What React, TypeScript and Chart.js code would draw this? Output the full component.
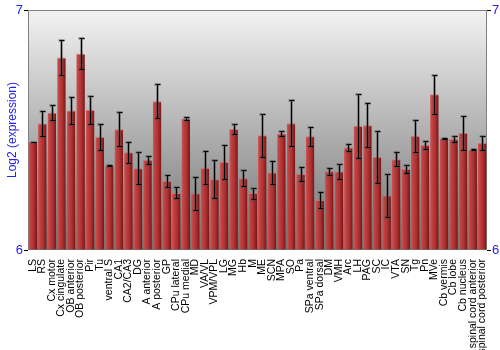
import React, { useEffect, useRef } from "react";
import { Chart, registerables } from "chart.js";

Chart.register(...registerables);

const categories: string[] = [
  "LS", "RS", "Cx motor", "Cx cingulate", "OB anterior", "OB posterior", "Pir", "Tu",
  "ventral S", "CA1", "CA2/CA3", "DG", "A anterior", "A posterior", "GP", "CPu lateral",
  "CPu medial", "MD", "VA/VL", "VPM/VPL", "LG", "MG", "Hb", "M", "ME", "SCN", "MPA", "SO",
  "Pa", "SPa ventral", "SPa dorsal", "DM", "VMH", "Arc", "LH", "PAG", "SC", "IC", "VTA",
  "SN", "Tg", "Pn", "MVe", "Cb vermis", "Cb lobe", "Cb nucleus", "spinal cord anterior",
  "spinal cord posterior",
];

const values: number[] = [
  6.450, 6.527, 6.572, 6.802, 6.581, 6.818, 6.583, 6.471,
  6.353, 6.503, 6.407, 6.341, 6.376, 6.620, 6.287, 6.238,
  6.548, 6.236, 6.342, 6.295, 6.367, 6.504, 6.299, 6.237, 6.478, 6.323, 6.485, 6.528,
  6.317, 6.474, 6.208, 6.328, 6.327, 6.427, 6.517, 6.520, 6.387, 6.227, 6.378,
  6.338, 6.475, 6.438, 6.649, 6.466, 6.462, 6.488, 6.419,
  6.446,
];

const errors: number[] = [
  0.002, 0.051, 0.032, 0.073, 0.055, 0.064, 0.059, 0.053,
  0.002, 0.070, 0.044, 0.068, 0.016, 0.072, 0.024, 0.023,
  0.008, 0.069, 0.069, 0.080, 0.070, 0.021, 0.034, 0.023, 0.090, 0.049, 0.010, 0.096,
  0.030, 0.039, 0.034, 0.015, 0.030, 0.015, 0.134, 0.092, 0.108, 0.089, 0.030,
  0.017, 0.067, 0.018, 0.081, 0.002, 0.014, 0.072, 0.002,
  0.028,
];

const yTicks: number[] = [6, 7];

const BLUE = "#2323ee";
const FONT = "'Liberation Sans', Arial, sans-serif";

const backgroundPlugin = {
  id: "bgPlugin",
  beforeDatasetsDraw(chart: any) {
    const { ctx, chartArea } = chart;
    const { left, top, right, bottom } = chartArea;
    ctx.save();
    const g = ctx.createLinearGradient(0, top, 0, bottom);
    g.addColorStop(0, "#f3f3f3");
    g.addColorStop(1, "#707070");
    ctx.fillStyle = g;
    ctx.fillRect(left, top, right - left, bottom - top);
    ctx.strokeStyle = "#808080";
    ctx.lineWidth = 1;
    ctx.beginPath();
    ctx.moveTo(left + 0.5, bottom);
    ctx.lineTo(left + 0.5, top + 0.5);
    ctx.lineTo(right - 0.5, top + 0.5);
    ctx.lineTo(right - 0.5, bottom);
    ctx.stroke();
    ctx.restore();
  },
};

const errorBarPlugin = {
  id: "errorBars",
  afterDatasetsDraw(chart: any) {
    const { ctx } = chart;
    const xs = chart.scales.x;
    const ys = chart.scales.y;
    ctx.save();
    values.forEach((v, i) => {
      const e = errors[i];
      const x = Math.round(xs.getPixelForValue(i)) + 0.5;
      const y1 = Math.round(ys.getPixelForValue(v + e)) + 0.5;
      const y2 = Math.round(ys.getPixelForValue(v - e)) + 0.5;
      ctx.strokeStyle = "rgba(70,70,70,0.45)";
      ctx.lineWidth = 3;
      ctx.beginPath();
      ctx.moveTo(x, y1);
      ctx.lineTo(x, y2);
      ctx.moveTo(x - 3, y1);
      ctx.lineTo(x + 3, y1);
      ctx.moveTo(x - 3, y2);
      ctx.lineTo(x + 3, y2);
      ctx.stroke();
      ctx.strokeStyle = "#000000";
      ctx.lineWidth = 1;
      ctx.beginPath();
      ctx.moveTo(x, y1);
      ctx.lineTo(x, y2);
      ctx.moveTo(x - 2, y1);
      ctx.lineTo(x + 3, y1);
      ctx.moveTo(x - 2, y2);
      ctx.lineTo(x + 3, y2);
      ctx.stroke();
    });
    ctx.restore();
  },
};

export default function App() {
  const ref = useRef<HTMLCanvasElement | null>(null);

  useEffect(() => {
    document.body.style.margin = "0";
    const canvas = ref.current;
    if (!canvas) return;

    const barFill = (c: any) => {
      const chart = c.chart;
      const xs = chart.scales && chart.scales.x;
      if (!xs || c.dataIndex === undefined) return "#b03434";
      const cx = xs.getPixelForValue(c.dataIndex);
      const w = (xs.right - xs.left) / categories.length * 0.9;
      if (!isFinite(cx) || !isFinite(w)) return "#b03434";
      const g = chart.ctx.createLinearGradient(cx - w / 2, 0, cx + w / 2, 0);
      g.addColorStop(0, "#cf5a5a");
      g.addColorStop(0.2, "#c04444");
      g.addColorStop(0.6, "#ae3030");
      g.addColorStop(1, "#751616");
      return g;
    };

    const chart = new Chart(canvas, {
      type: "bar",
      data: {
        labels: categories,
        datasets: [
          {
            data: values,
            backgroundColor: barFill,
            borderColor: "#d27070",
            borderWidth: { top: 1, left: 0, right: 0, bottom: 0 },
            borderSkipped: false,
            barPercentage: 0.9,
            categoryPercentage: 1,
            base: 6,
          },
        ],
      },
      options: {
        animation: false,
        responsive: false,
        maintainAspectRatio: false,
        layout: { padding: { top: 10, left: 0, right: 0, bottom: 0 } },
        plugins: { legend: { display: false }, tooltip: { enabled: false } },
        scales: {
          x: {
            type: "category",
            grid: { display: false },
            border: { display: false },
            ticks: {
              autoSkip: false,
              maxRotation: 90,
              minRotation: 90,
              padding: 1,
              color: "#000000",
              font: { family: FONT, size: 10.5 },
            },
            afterFit(scale: any) {
              scale.height = 100;
            },
          },
          y: {
            position: "left",
            min: 6,
            max: 7,
            afterBuildTicks(scale: any) {
              scale.ticks = yTicks.map((v) => ({ value: v }));
            },
            grid: {
              drawOnChartArea: false,
              drawTicks: true,
              tickLength: 4,
              color: "#000000",
            },
            border: { display: false },
            ticks: {
              padding: 1,
              color: BLUE,
              font: { family: FONT, size: 13 },
            },
            title: {
              display: true,
              text: "Log2 (expression)",
              color: BLUE,
              font: { family: FONT, size: 12 },
              padding: { top: 5, bottom: 0 },
            },
            afterFit(scale: any) {
              scale.width = 28;
            },
          },
          y2: {
            position: "right",
            min: 6,
            max: 7,
            afterBuildTicks(scale: any) {
              scale.ticks = yTicks.map((v) => ({ value: v }));
            },
            grid: {
              drawOnChartArea: false,
              drawTicks: true,
              tickLength: 4,
              color: "#000000",
            },
            border: { display: false },
            ticks: {
              padding: 1,
              color: BLUE,
              font: { family: FONT, size: 13 },
            },
            afterFit(scale: any) {
              scale.width = 13;
            },
          },
        },
      },
      plugins: [backgroundPlugin, errorBarPlugin],
    });

    return () => {
      chart.destroy();
    };
  }, []);

  return (
    <div style={{ width: 500, height: 350, background: "#ffffff" }}>
      <canvas ref={ref} width={500} height={350} style={{ display: "block" }} />
    </div>
  );
}
